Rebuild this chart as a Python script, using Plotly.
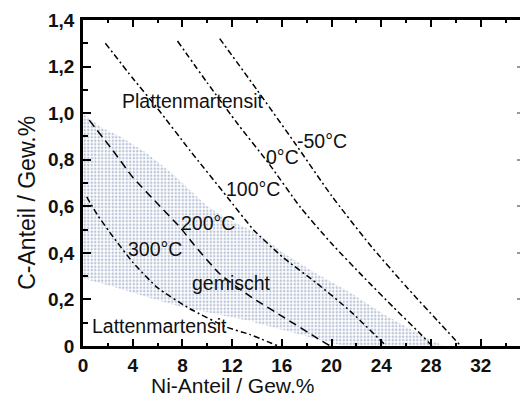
import plotly.graph_objects as go

# Ms-Linien (Martensitstart) im System Fe-Ni-C, C-Anteil über Ni-Anteil
ni_m50 = [11.0, 14.0, 17.0, 20.0, 23.0, 26.0, 28.5, 30.4]
c_m50 = [1.32, 1.10, 0.875, 0.645, 0.44, 0.255, 0.11, 0.0]

ni_0 = [7.6, 10.0, 12.5, 15.0, 17.5, 20.0, 22.5, 25.0, 27.0, 28.1]
c_0 = [1.31, 1.13, 0.95, 0.78, 0.595, 0.44, 0.30, 0.165, 0.06, 0.0]

ni_100 = [1.8, 4.0, 6.0, 8.6, 11.6, 13.7, 16.1, 18.8, 21.5, 24.4]
c_100 = [1.30, 1.15, 1.02, 0.84, 0.64, 0.50, 0.38, 0.27, 0.15, 0.0]

ni_200 = [0.5, 2.4, 4.0, 5.95, 7.8, 8.85, 11.0, 13.4, 16.1, 18.8, 19.9]
c_200 = [0.97, 0.84, 0.725, 0.614, 0.51, 0.44, 0.31, 0.215, 0.125, 0.035, 0.0]

ni_300 = [0.3, 1.2, 2.4, 4.0, 6.0, 8.6, 11.6, 13.4, 15.7]
c_300 = [0.64, 0.56, 0.47, 0.36, 0.25, 0.16, 0.08, 0.05, 0.0]

# Bereich "gemischt": obere und untere Grenze
mix_upper_ni = [0.0, 1.4, 3.0, 5.1, 7.2, 8.6, 10.0, 11.8, 13.4, 14.8, 16.1, 18.8, 21.5, 24.1, 26.9, 29.0]
mix_upper_c = [1.0, 0.94, 0.90, 0.83, 0.74, 0.67, 0.60, 0.54, 0.50, 0.455, 0.40, 0.31, 0.23, 0.14, 0.056, 0.0]
mix_lower_ni = [0.0, 2.4, 5.1, 7.8, 10.5, 13.2, 16.1, 18.8, 21.0]
mix_lower_c = [0.29, 0.255, 0.21, 0.17, 0.14, 0.11, 0.07, 0.03, 0.0]

x_ticks = [0, 4, 8, 12, 16, 20, 24, 28, 32]
x_ticktext = ["0", "4", "8", "12", "16", "20", "24", "28", "32"]
y_ticks = [0, 0.2, 0.4, 0.6, 0.8, 1.0, 1.2, 1.4]
y_ticktext = ["0", "0,2", "0,4", "0,6", "0,8", "1,0", "1,2", "1,4"]

labels = ["Plattenmartensit", "-50°C", "0°C", "100°C", "200°C", "300°C", "gemischt", "Lattenmartensit"]
label_ni = [8.77, 19.2, 16.05, 13.68, 10.08, 5.79, 11.96, 6.19]
label_c = [1.052, 0.881, 0.813, 0.674, 0.530, 0.416, 0.27, 0.088]

FONT = "Liberation Sans, Arial, sans-serif"
DASHDOT = "6px,3px,2px,3px"

fig = go.Figure()

# gepunkteter Mischbereich
poly_x = mix_upper_ni + mix_lower_ni[::-1]
poly_y = mix_upper_c + mix_lower_c[::-1]
fig.add_trace(go.Scatter(
    x=poly_x, y=poly_y, mode="lines", fill="toself",
    line=dict(width=0, color="rgba(0,0,0,0)"),
    fillcolor="rgba(0,0,0,0)",
    fillpattern=dict(shape=".", size=3.5, solidity=0.4,
                     fgcolor="#7388b0", bgcolor="rgba(255,255,255,0)"),
    hoverinfo="skip", showlegend=False,
))

curves = [
    (ni_m50, c_m50, DASHDOT),
    (ni_0, c_0, DASHDOT),
    (ni_100, c_100, DASHDOT),
    (ni_200, c_200, "8px,5px"),
    (ni_300, c_300, DASHDOT),
]
for xs, ys, dash in curves:
    fig.add_trace(go.Scatter(
        x=xs, y=ys, mode="lines",
        line=dict(color="black", width=1.5, dash=dash, shape="spline", smoothing=0.5),
        showlegend=False, hoverinfo="skip",
    ))

# unsichtbare Spur für die rechte Achse
fig.add_trace(go.Scatter(x=[0], y=[0], yaxis="y2", mode="markers",
                         marker=dict(size=0, opacity=0), showlegend=False, hoverinfo="skip"))

for txt, xv, yv in zip(labels, label_ni, label_c):
    fig.add_annotation(x=xv, y=yv, text=txt, showarrow=False,
                       font=dict(family=FONT, size=19.5, color="#111"),
                       xanchor="center", yanchor="middle")

fig.add_annotation(xref="paper", yref="paper", x=-0.13, y=0.44, text="C-Anteil / Gew.%",
                   textangle=-90, showarrow=False,
                   font=dict(family=FONT, size=23, color="#111"),
                   xanchor="center", yanchor="middle")
fig.add_annotation(xref="paper", yref="paper", x=0.343, y=-0.12, text="Ni-Anteil / Gew.%",
                   showarrow=False,
                   font=dict(family=FONT, size=21, color="#111"),
                   xanchor="center", yanchor="middle")

fig.update_layout(
    width=520, height=403,
    margin=dict(l=83, r=0, t=20, b=57),
    paper_bgcolor="white", plot_bgcolor="white",
    xaxis=dict(
        range=[0, 35.16], tickvals=x_ticks, ticktext=x_ticktext,
        showline=True, linecolor="black", linewidth=2.5, mirror="ticks",
        ticks="inside", ticklen=7, tickwidth=2, tickcolor="black",
        minor=dict(dtick=2, ticks="inside", ticklen=3, tickwidth=2, tickcolor="black"),
        showgrid=False, zeroline=False,
        tickfont=dict(family=FONT, size=19, color="#111", weight="bold"),
    ),
    yaxis=dict(
        range=[0, 1.4], tickvals=y_ticks, ticktext=y_ticktext,
        showline=True, linecolor="black", linewidth=2.5, mirror=False,
        ticks="inside", ticklen=8, tickwidth=2, tickcolor="black",
        minor=dict(dtick=0.1, ticks="inside", ticklen=5, tickwidth=2, tickcolor="black"),
        showgrid=False, zeroline=False, ticklabelstandoff=2,
        tickfont=dict(family=FONT, size=19, color="#111", weight="bold"),
    ),
    yaxis2=dict(
        range=[0, 1.4], overlaying="y", side="right", anchor="x",
        tickvals=[0.2, 0.4, 0.6, 0.8, 1.0, 1.2], showticklabels=False,
        ticks="inside", ticklen=3, tickwidth=1.5, tickcolor="#999",
        showline=False, showgrid=False, zeroline=False,
    ),
)

fig.write_html("out.html")
